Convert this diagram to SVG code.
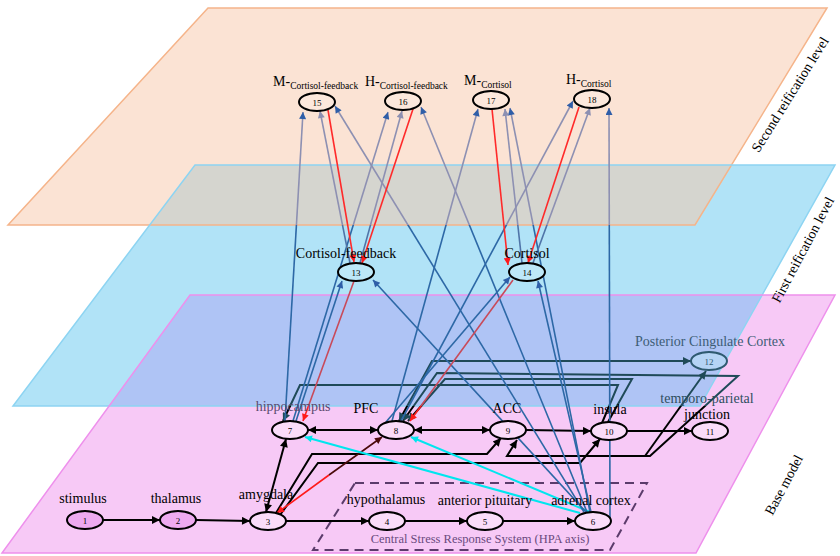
<svg xmlns="http://www.w3.org/2000/svg" width="840" height="556" viewBox="0 0 840 556">
<style>
text{font-family:"Liberation Serif","Times New Roman",serif;fill:#000}
.lbl{font-size:14px}
.num{font-size:9px;text-anchor:middle;fill:#000}
.nd{stroke:#000;stroke-width:2}
.k{fill:none;stroke:url(#gk);stroke-width:2}
.b{fill:none;stroke:url(#gb);stroke-width:1.6}
.g{fill:none;stroke:url(#gg);stroke-width:1.6}
.r{fill:none;stroke:#ff2a2a;stroke-width:1.6}
.rd{fill:none;stroke:url(#gr);stroke-width:1.6}
.c{fill:none;stroke:#00e6ee;stroke-width:2}
</style>
<defs>
<linearGradient id="gb" gradientUnits="userSpaceOnUse" x1="0" y1="0" x2="0" y2="556">
<stop offset="0" stop-color="#8d90b2"/><stop offset="0.4047" stop-color="#8d90b2"/><stop offset="0.4047" stop-color="#2d68a6"/><stop offset="1" stop-color="#2d68a6"/>
</linearGradient>
<linearGradient id="gg" gradientUnits="userSpaceOnUse" x1="0" y1="0" x2="0" y2="556">
<stop offset="0" stop-color="#8d90b2"/><stop offset="0.4047" stop-color="#8d90b2"/><stop offset="0.4047" stop-color="#4f74a8"/><stop offset="1" stop-color="#4f74a8"/>
</linearGradient>
<linearGradient id="gk" gradientUnits="userSpaceOnUse" x1="0" y1="0" x2="0" y2="556">
<stop offset="0" stop-color="#1f4a58"/><stop offset="0.730" stop-color="#1f4a58"/><stop offset="0.730" stop-color="#000"/><stop offset="1" stop-color="#000"/>
</linearGradient>
<linearGradient id="gr" gradientUnits="userSpaceOnUse" x1="0" y1="0" x2="0" y2="556">
<stop offset="0" stop-color="#c84a5a"/><stop offset="0.730" stop-color="#c84a5a"/><stop offset="0.730" stop-color="#ff2020"/><stop offset="1" stop-color="#ff2020"/>
</linearGradient>
<marker id="ak" viewBox="0 0 10 10" refX="10" refY="5" markerUnits="userSpaceOnUse" markerWidth="10" markerHeight="8" orient="auto-start-reverse"><path d="M0,0L10,5L0,10z" fill="#000"/></marker>
<marker id="at" viewBox="0 0 10 10" refX="10" refY="5" markerUnits="userSpaceOnUse" markerWidth="10" markerHeight="8" orient="auto-start-reverse"><path d="M0,0L10,5L0,10z" fill="#1f4a58"/></marker>
<marker id="ab" viewBox="0 0 10 10" refX="10" refY="5" markerUnits="userSpaceOnUse" markerWidth="10" markerHeight="7" orient="auto-start-reverse"><path d="M0,0L10,5L0,10z" fill="#2f5ea8"/></marker>
<marker id="ag" viewBox="0 0 10 10" refX="10" refY="5" markerUnits="userSpaceOnUse" markerWidth="10" markerHeight="7" orient="auto-start-reverse"><path d="M0,0L10,5L0,10z" fill="#8d90b2"/></marker>
<marker id="ar" viewBox="0 0 10 10" refX="10" refY="5" markerUnits="userSpaceOnUse" markerWidth="10" markerHeight="7" orient="auto-start-reverse"><path d="M0,0L10,5L0,10z" fill="#ff1a1a"/></marker>
<marker id="am" viewBox="0 0 10 10" refX="10" refY="5" markerUnits="userSpaceOnUse" markerWidth="10" markerHeight="7" orient="auto-start-reverse"><path d="M0,0L10,5L0,10z" fill="#4a0a0a"/></marker>
<marker id="ac" viewBox="0 0 10 10" refX="10" refY="5" markerUnits="userSpaceOnUse" markerWidth="10" markerHeight="7" orient="auto-start-reverse"><path d="M0,0L10,5L0,10z" fill="#00e6ee"/></marker>
</defs>

<g id="planes">
<polygon points="208,8 827,8 695,225 8,225" fill="#fbe3d4"/>
<polygon points="195,165 835,165 700,406 13,406" fill="#b1e3f7"/>
<polygon points="190,295 835,295 696,553 2,553" fill="#f7c9f6"/>
<polygon points="195,165 732,165 695,225 150,225" fill="#d5d5cf"/>
<polygon points="190,295 762,295 700,406 109,406" fill="#afc4f5"/>
<polygon points="208,8 827,8 695,225 8,225" fill="none" stroke="#f5b48a" stroke-width="1.5"/>
<polygon points="195,165 835,165 700,406 13,406" fill="none" stroke="#8dd4f2" stroke-width="1.5"/>
<polygon points="190,295 835,295 696,553 2,553" fill="none" stroke="#ee90ec" stroke-width="1.5"/>
<text class="lbl" transform="translate(794,97) rotate(-58)" text-anchor="middle">Second reification level</text>
<text class="lbl" transform="translate(807,252) rotate(-62)" text-anchor="middle">First reification level</text>
<text class="lbl" transform="translate(788,487) rotate(-62)" text-anchor="middle">Base model</text>
</g>

<g id="hpa">
<polygon points="355,483 647,483 610,550 313,550" fill="none" stroke="#5b3b6b" stroke-width="2" stroke-dasharray="9,6"/>
<text x="480" y="543" text-anchor="middle" style="font-size:12.5px;fill:#6a4a7e">Central Stress Response System (HPA axis)</text>
</g>

<g id="connectors">
<path class="k" d="M103,520L160,520" marker-end="url(#ak)"/>
<path class="k" d="M196,520L250,521" marker-end="url(#ak)"/>
<path class="k" d="M286,521L369,521" marker-end="url(#ak)"/>
<path class="k" d="M405,521L467,521" marker-end="url(#ak)"/>
<path class="k" d="M503,521L575,521" marker-end="url(#ak)"/>
<path class="k" d="M308,430L378,430" marker-start="url(#ak)" marker-end="url(#ak)"/>
<path class="k" d="M414,430L490,430" marker-start="url(#ak)" marker-end="url(#ak)"/>
<path class="k" d="M526,430L591,431" marker-end="url(#ak)"/>
<path class="k" d="M627,431L692,431" marker-end="url(#ak)"/>
<path class="k" d="M266,512L286,439" marker-start="url(#ak)" marker-end="url(#ak)"/>
<path class="k" d="M276,513L312,454L487,454L501,438" marker-end="url(#ak)"/>
<path class="k" d="M280,515L318,463L580,463L600,439" marker-end="url(#ak)"/>
<path class="k" d="M399,421L432,361L691,361" marker-start="url(#at)" marker-end="url(#at)"/>
<path class="k" d="M403,421L437,373L738,376L650,456L507,456L517,440" marker-start="url(#at)" marker-end="url(#ak)"/>
<path class="k" d="M645,456L706,371" marker-end="url(#at)"/>
<path class="k" d="M608,422L632,379L445,379L408,421" marker-end="url(#at)"/>
<path class="k" d="M602,423L618,385L300,385L283,421" marker-end="url(#at)"/>
<path d="M329,475L277,513" fill="none" stroke="#ff1a1a" stroke-width="1.6" marker-end="url(#ar)"/>
<path d="M329,475L382,437" fill="none" stroke="#4a0a0a" stroke-width="1.6" marker-end="url(#am)"/>
<path class="c" d="M580,513L305,437" marker-end="url(#ac)"/>
<path class="c" d="M590,512L411,437" marker-end="url(#ac)"/>
<path class="b" d="M285,421L303,112" marker-end="url(#ab)"/>
<path class="b" d="M293,421L388,112" marker-end="url(#ab)"/>
<path class="b" d="M296,421L342,281" marker-end="url(#ab)"/>
<path class="b" d="M392,421L478,109" marker-end="url(#ab)"/>
<path class="b" d="M401,421L573,101" marker-end="url(#ab)"/>
<path class="b" d="M386,422L510,277" marker-end="url(#ab)"/>
<path class="b" d="M586,512L373,280" marker-end="url(#ab)"/>
<path class="b" d="M591,512L538,281" marker-end="url(#ab)"/>
<path class="b" d="M584,512L335,106" marker-end="url(#ab)"/>
<path class="b" d="M587,512L421,107" marker-end="url(#ab)"/>
<path class="b" d="M590,512L510,108" marker-end="url(#ab)"/>
<path class="b" d="M610,519L609,108" marker-end="url(#ab)"/>
<path class="g" d="M350,263L320,111" marker-end="url(#ag)"/>
<path class="g" d="M360,263L402,111" marker-end="url(#ag)"/>
<path class="g" d="M522,263L505,109" marker-end="url(#ag)"/>
<path class="g" d="M533,263L590,108" marker-end="url(#ag)"/>
<path class="r" d="M328,110L354,262" marker-end="url(#ar)"/>
<path class="r" d="M413,109L362,263" marker-end="url(#ar)"/>
<path class="r" d="M492,109L508,265" marker-end="url(#ar)"/>
<path class="r" d="M579,107L528,263" marker-end="url(#ar)"/>
<path class="rd" d="M354,281L303,421" marker-end="url(#ar)"/>
<path class="rd" d="M513,280L410,421" marker-end="url(#ar)"/>
</g>

<g id="n1"><ellipse class="nd" cx="85" cy="520" rx="18" ry="9" fill="#eeaaf0"/><text class="num" x="85" y="524">1</text><text class="lbl" x="83" y="503" text-anchor="middle">stimulus</text></g>
<g id="n2"><ellipse class="nd" cx="178" cy="520" rx="18" ry="9" fill="#eeaaf0"/><text class="num" x="178" y="524">2</text><text class="lbl" x="176" y="503" text-anchor="middle">thalamus</text></g>
<g id="n3"><ellipse class="nd" cx="268" cy="521" rx="18" ry="9" fill="#fadcf9"/><text class="num" x="268" y="525">3</text><text class="lbl" x="266" y="499" text-anchor="middle">amygdala</text></g>
<g id="n4"><ellipse class="nd" cx="387" cy="521" rx="18" ry="9" fill="#fadcf9"/><text class="num" x="387" y="525">4</text><text class="lbl" x="386" y="504" text-anchor="middle">hypothalamus</text></g>
<g id="n5"><ellipse class="nd" cx="485" cy="521" rx="18" ry="9" fill="#fadcf9"/><text class="num" x="485" y="525">5</text><text class="lbl" x="485" y="505" text-anchor="middle">anterior pituitary</text></g>
<g id="n6"><ellipse class="nd" cx="593" cy="521" rx="18" ry="9" fill="#fadcf9"/><text class="num" x="593" y="525">6</text><text class="lbl" x="591" y="505" text-anchor="middle">adrenal cortex</text></g>
<g id="n7"><ellipse class="nd" cx="290" cy="430" rx="18" ry="9" fill="#fadcf9"/><text class="num" x="290" y="434">7</text><text class="lbl" x="293" y="411" text-anchor="middle" style="fill:#5b4a6e">hippocampus</text></g>
<g id="n8"><ellipse class="nd" cx="396" cy="430" rx="18" ry="9" fill="#fadcf9"/><text class="num" x="396" y="434">8</text><text class="lbl" x="366" y="413" text-anchor="middle">PFC</text></g>
<g id="n9"><ellipse class="nd" cx="508" cy="430" rx="18" ry="9" fill="#fadcf9"/><text class="num" x="508" y="434">9</text><text class="lbl" x="507" y="413" text-anchor="middle">ACC</text></g>
<g id="n10"><ellipse class="nd" cx="609" cy="431" rx="18" ry="9" fill="#fadcf9"/><text class="num" x="609" y="435">10</text><text class="lbl" x="610" y="414" text-anchor="middle">insula</text></g>
<g id="n11"><ellipse class="nd" cx="710" cy="431" rx="18" ry="9" fill="#fadcf9"/><text class="num" x="710" y="435">11</text><text class="lbl" x="707" y="403" text-anchor="middle" style="fill:#2e4e5e">temporo-parietal</text><text class="lbl" x="707" y="419" text-anchor="middle">junction</text></g>
<g id="n12"><ellipse cx="709" cy="361" rx="18" ry="9" fill="#b5d4f5" stroke="#2e5a70" stroke-width="2"/><text class="num" x="709" y="365" style="fill:#2e5a70">12</text><text class="lbl" x="710" y="346" text-anchor="middle" style="fill:#3d5d75">Posterior Cingulate Cortex</text></g>
<g id="n13"><ellipse class="nd" cx="356" cy="272" rx="18" ry="9" fill="#bde8f8"/><text class="num" x="356" y="276">13</text><text class="lbl" x="346" y="258" text-anchor="middle">Cortisol-feedback</text></g>
<g id="n14"><ellipse class="nd" cx="527" cy="272" rx="18" ry="9" fill="#bde8f8"/><text class="num" x="527" y="276">14</text><text class="lbl" x="527" y="258" text-anchor="middle">Cortisol</text></g>
<g id="n15"><ellipse class="nd" cx="317" cy="102" rx="18" ry="9" fill="#fce8dc"/><text class="num" x="317" y="106">15</text><text class="lbl" x="273" y="86">M-<tspan style="font-size:9.5px" dy="3">Cortisol-feedback</tspan></text></g>
<g id="n16"><ellipse class="nd" cx="403" cy="101" rx="18" ry="9" fill="#fce8dc"/><text class="num" x="403" y="105">16</text><text class="lbl" x="365" y="86">H-<tspan style="font-size:9.5px" dy="3">Cortisol-feedback</tspan></text></g>
<g id="n17"><ellipse class="nd" cx="491" cy="100" rx="18" ry="9" fill="#fce8dc"/><text class="num" x="491" y="104">17</text><text class="lbl" x="464" y="85">M-<tspan style="font-size:9.5px" dy="3">Cortisol</tspan></text></g>
<g id="n18"><ellipse class="nd" cx="592" cy="99" rx="18" ry="9" fill="#fce8dc"/><text class="num" x="592" y="103">18</text><text class="lbl" x="566" y="84">H-<tspan style="font-size:9.5px" dy="3">Cortisol</tspan></text></g>
</svg>
